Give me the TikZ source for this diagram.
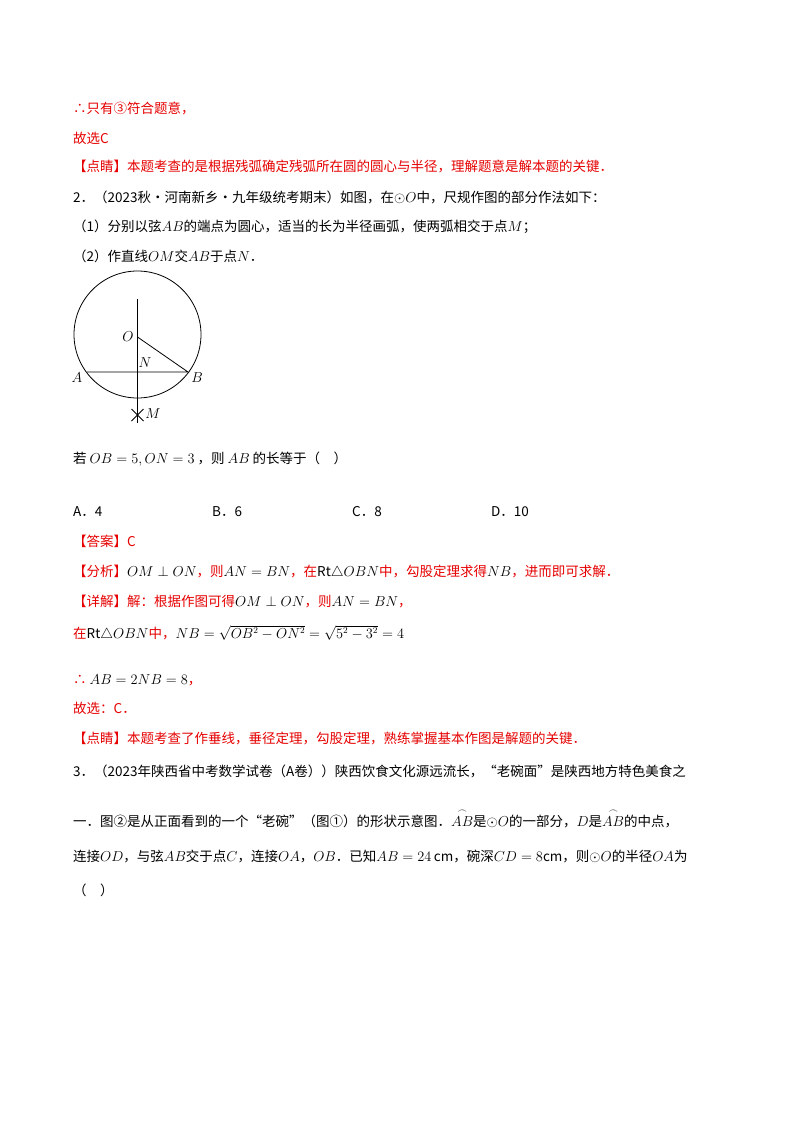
\documentclass[tikz,border=0pt]{standalone}
\usepackage{fontspec}
\setmainfont{Noto Sans CJK SC}
\usepackage{amsmath}
\definecolor{rd}{RGB}{230,0,0}
\tikzset{ln/.style={anchor=base west,inner sep=0pt,font=\fontsize{13.5}{16}\selectfont},
 lb/.style={inner sep=0pt,font=\fontsize{14}{16}\selectfont}}
\begin{document}
\begin{tikzpicture}[x=1pt,y=-1pt]
\useasboundingbox[fill=white] (0,0) rectangle (800,1132);
\node[ln,text=rd] (l1) at (73,113) {∴只有③符合题意，};
\node[ln,text=rd] (l2) at (73,143) {故选C};
\node[ln,text=rd] (l3) at (73,171) {【点睛】本题考查的是根据残弧确定残弧所在圆的圆心与半径，理解题意是解本题的关键．};
\node[ln] (l4) at (73,202) {2．（2023秋·河南新乡·九年级统考期末）如图，在$\odot O$中，尺规作图的部分作法如下：};
\node[ln] (l5) at (73,231) {（1）分别以弦$AB$的端点为圆心，适当的长为半径画弧，使两弧相交于点$M$；};
\node[ln] (l6) at (73,261) {（2）作直线$OM$交$AB$于点$N$．};
% figure
\coordinate (O) at (137.5,337);
\coordinate (N) at (137.5,372);
\coordinate (A) at (87,372);
\coordinate (B) at (188,372);
\coordinate (M) at (137.5,415);
\draw[line width=0.8pt] (137.5,334.5) circle (63.5);
\draw[line width=0.8pt] (137.5,299) -- (137.5,423);
\draw[line width=0.8pt] (A) -- (B) -- (O);
\draw[line width=0.8pt] (M) ++(-6,-6) -- ++(12,12) (M) ++(-6,6) -- ++(12,-12);
\node[lb] (tO) at (128,337) {$O$};
\node[lb] (tN) at (145,363) {$N$};
\node[lb] (tA) at (77,378) {$A$};
\node[lb] (tB) at (197,378) {$B$};
\node[lb] (tM) at (153,414) {$M$};
\node[ln] (l7) at (73,463) {若 $OB=5,ON=3$ ，则 $AB$ 的长等于（\quad）};
\node[ln] (c1) at (73,516) {A．4};
\node[ln] (c2) at (212,516) {B．6};
\node[ln] (c3) at (352,516) {C．8};
\node[ln] (c4) at (491,516) {D．10};
\node[ln,text=rd] (l8) at (73,546) {【答案】C};
\node[ln,text=rd] (l9) at (73,576) {【分析】\textcolor{black}{$OM\perp ON$}，则\textcolor{black}{$AN=BN$}，在\textcolor{black}{$\mathrm{Rt}\triangle OBN$}中，勾股定理求得\textcolor{black}{$NB$}，进而即可求解．};
\node[ln,text=rd] (l10) at (73,606) {【详解】解：根据作图可得\textcolor{black}{$OM\perp ON$}，则\textcolor{black}{$AN=BN$}，};
\node[ln,text=rd] (l11) at (73,638) {在\textcolor{black}{$\mathrm{Rt}\triangle OBN$}中，\textcolor{black}{$NB=\sqrt{OB^2-ON^2}=\sqrt{5^2-3^2}=4$}};
\node[ln,text=rd] (l12) at (73,684) {∴ \textcolor{black}{$AB=2NB=8$}，};
\node[ln,text=rd] (l13) at (73,713) {故选：C．};
\node[ln,text=rd] (l14) at (73,743) {【点睛】本题考查了作垂线，垂径定理，勾股定理，熟练掌握基本作图是解题的关键．};
\node[ln] (l15) at (73,776) {3．（2023年陕西省中考数学试卷（A卷））陕西饮食文化源远流长，“老碗面”是陕西地方特色美食之};
\node[ln] (l16) at (73,826) {一．图②是从正面看到的一个“老碗”（图①）的形状示意图．$\overset{\frown}{AB}$是$\odot O$的一部分，$D$是$\overset{\frown}{AB}$的中点，};
\node[ln] (l17) at (73,861) {连接$OD$，与弦$AB$交于点$C$，连接$OA$，$OB$．已知$AB=24\,\mathrm{cm}$，碗深$CD=8\mathrm{cm}$，则$\odot O$的半径$OA$为};
\node[ln] (l18) at (73,895) {（\quad）};
\end{tikzpicture}
\end{document}
